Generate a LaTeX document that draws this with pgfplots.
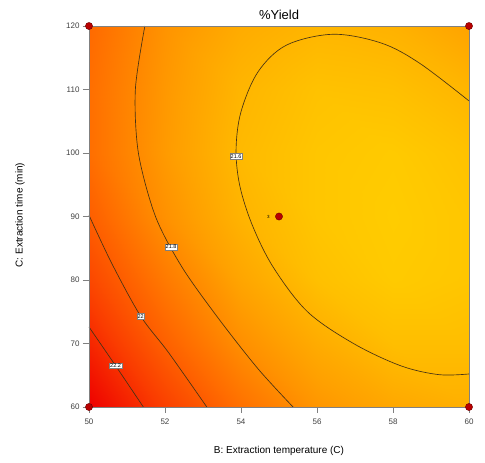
\documentclass[border=0pt]{standalone}
\usepackage{fontspec}
\setmainfont{Liberation Sans}
\usepackage{pgfplots}
\pgfplotsset{compat=1.18}
\definecolor{cline}{RGB}{70,50,20}
\definecolor{dot}{RGB}{185,0,0}
\begin{document}
\begin{tikzpicture}
\useasboundingbox (-89pt,-56pt) rectangle (396pt,407pt);
\begin{axis}[
  at={(0pt,0pt)}, anchor=south west,
  scale only axis, width=380pt, height=381pt,
  view={0}{90},
  xmin=50, xmax=60, ymin=60, ymax=120,
  xtick={50,52,...,60}, ytick={60,70,...,120},
  xtick pos=bottom, ytick pos=left,
  tick align=outside, major tick length=6pt,
  tick style={gray, line width=0.5pt},
  axis line style={gray},
  ticklabel style={font=\fontsize{8}{9}\selectfont, text=black!75},
  xticklabel style={yshift=-2pt},
  /pgf/number format/assume math mode=true,
  colormap={yr}{rgb255=(255,204,0) rgb255=(255,160,0) rgb255=(255,110,0) rgb255=(250,60,0) rgb255=(238,0,0)},
  point meta min=21.5, point meta max=22.36,
  clip=false,
]
% response surface, read off the colours and contours
\addplot3[surf, shader=interp, mesh/cols=6] table {
x y z
50 60 22.36
52 60 22.13
54 60 21.92
56 60 21.76
58 60 21.68
60 60 21.64
50 70 22.23
52 70 21.99
54 70 21.79
56 70 21.66
58 70 21.57
60 70 21.57
50 80 22.10
52 80 21.88
54 80 21.69
56 80 21.56
58 80 21.51
60 80 21.53
50 90 22.00
52 90 21.78
54 90 21.62
56 90 21.53
58 90 21.50
60 90 21.53
50 100 21.93
52 100 21.74
54 100 21.59
56 100 21.53
58 100 21.51
60 100 21.55
50 110 21.93
52 110 21.75
54 110 21.61
56 110 21.55
58 110 21.56
60 110 21.61
50 120 21.95
52 120 21.77
54 120 21.66
56 120 21.61
58 120 21.63
60 120 21.70
};
% contour 22.2
\addplot3[cline, line width=0.65pt, smooth, tension=0.5] coordinates {
(50,72.6,23) (50.70,66.5,23) (51.43,60,23)};
% contour 22
\addplot3[cline, line width=0.65pt, smooth, tension=0.5] coordinates {
(50,90.2,23) (50.60,82.6,23) (51.36,74.3,23)
(52.09,68.6,23) (53.1,60,23)};
% contour 21.8
\addplot3[cline, line width=0.65pt, smooth, tension=0.5] coordinates {
(51.47,120,23) (51.22,110.0,23) (51.30,100.0,23)
(51.75,90.0,23) (52.45,82.0,23) (53.40,74.0,23)
(54.45,66.0,23) (55.37,60,23)};
% contour 21.6
\addplot3[cline, line width=0.65pt, smooth, tension=0.55] coordinates {
(60,108.2,23) (58.71,114.1,23) (57.70,117.3,23) (56.43,118.7,23) (55.2,117.0,23)
(54.45,112.8,23) (54.0,106.5,23) (53.87,100.5,23) (53.97,94.8,23)
(54.30,88.6,23) (54.85,82.0,23) (55.75,75.0,23) (56.96,70.0,23)
(58.20,66.5,23) (59.20,65.1,23) (60,65.2,23)};
% design points
\addplot3[only marks, mark=*, mark size=3.6pt, mark options={fill=dot, draw=dot!60!black, line width=0.4pt}]
coordinates {(50,60,23) (50,120,23) (60,60,23) (60,120,23) (55,90,23)};
\tikzset{clab/.style={fill=white, draw=gray, inner sep=0.9pt, line width=0.35pt,
  font=\fontsize{5.5}{6}\selectfont}}
\node[clab] at (axis cs:53.87,99.5,23) {21.6};
\node[clab] at (axis cs:52.16,85.2,23) {21.8};
\node[clab] at (axis cs:51.36,74.3,23) {22};
\node[clab] at (axis cs:50.70,66.5,23) {22.2};
\node[font=\fontsize{4.5}{5}\selectfont, inner sep=0pt] at (axis cs:54.72,90,23) {3};
\end{axis}
\node[font=\fontsize{13}{15}\selectfont] at (190pt,392pt) {\%Yield};
\node[font=\fontsize{10}{12}\selectfont] at (190pt,-44pt) {B: Extraction temperature (C)};
\node[font=\fontsize{10}{12}\selectfont, rotate=90] at (-69pt,192pt) {C: Extraction time (min)};
\end{tikzpicture}
\end{document}
